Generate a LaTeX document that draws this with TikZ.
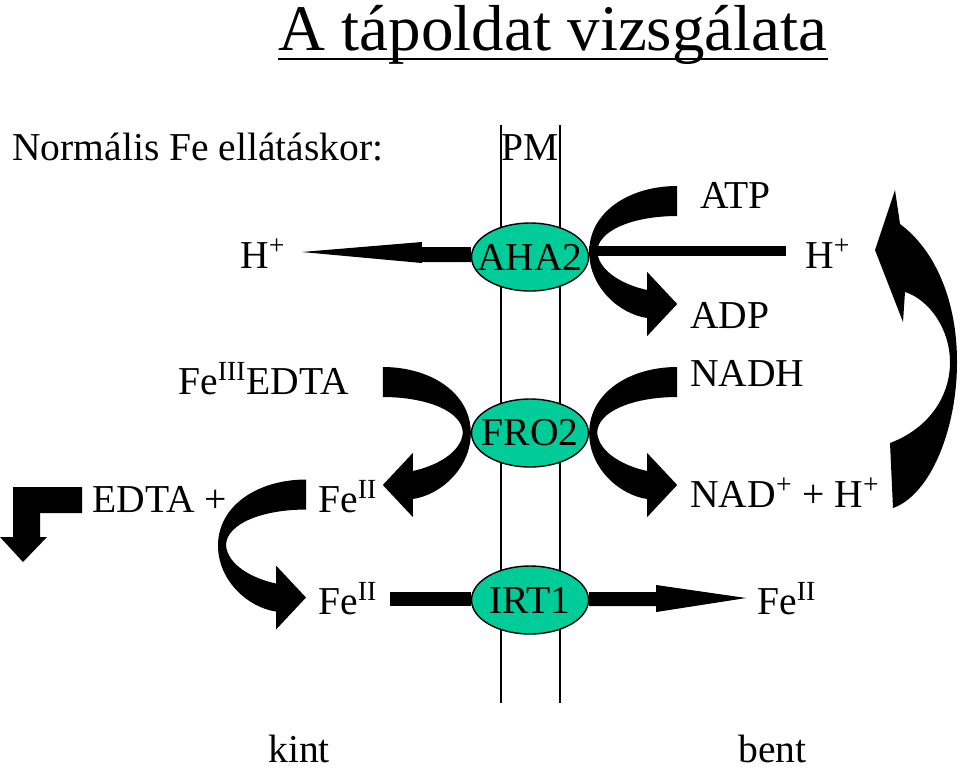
\documentclass[tikz,border=0pt]{standalone}
\usepackage{fontspec}
\setmainfont{Liberation Serif}
\usetikzlibrary{arrows.meta, positioning, calc, shapes.geometric}
\definecolor{ProteinFill}{RGB}{0,204,153}

% curved block arrow, origin at the bulge that touches a protein
\tikzset{
    curvarrow/.pic={
        \fill (88,-66) .. controls (40,-66) and (0,-40) .. (0,0)
            .. controls (0,35) and (30,62) .. (58,66)
            -- (58,84) -- (88,52) -- (58,20) -- (58,38)
            .. controls (35,33) and (10,20) .. (8,0)
            .. controls (8,-22) and (45,-36) .. (88,-36) -- cycle;
    }
}

\begin{document}
\begin{tikzpicture}[
    x=0.02cm, y=-0.02cm,
    lbl/.style={font=\fontsize{22.5}{26}\selectfont, inner sep=0pt},
    protein/.style={
        ellipse, draw=black, line width=0.8pt, fill=ProteinFill,
        minimum width=2.34cm, minimum height=1.36cm, inner sep=0pt,
        label={[lbl]center:#1}
    },
    membrane/.style={line width=0.7pt},
    flux/.style={line width=#1, black},
    flux/.default={8pt}
]
\useasboundingbox (0,0) rectangle (960,769);

% Membrane
\draw[membrane] (501,125) -- (501,703);
\draw[membrane] (560,125) -- (560,703);

% Title
\node[font=\fontsize{37}{40}\selectfont, inner sep=0pt, anchor=base] (title)
    at (553,50) {A tápoldat vizsgálata};
\draw[line width=1.4pt] ($(title.base west)+(0,9)$) -- ($(title.base east)+(0,9)$);

% Labels
\node[lbl, anchor=base west] (normal) at (12,160) {Normális Fe ellátáskor:};
\node[lbl, anchor=base] (pm) at (530,160) {PM};
\node[lbl, anchor=base west] (hleft) at (240,268) {H\textsuperscript{+}};
\node[lbl, anchor=base west] (atp) at (700,208) {ATP};
\node[lbl, anchor=base west] (hright) at (805,268) {H\textsuperscript{+}};
\node[lbl, anchor=base west] (adp) at (690,328) {ADP};
\node[lbl, anchor=base west] (nadh) at (690,386) {NADH};
\node[lbl, anchor=base west] (fe3edta) at (178,394) {Fe\textsuperscript{III}EDTA};
\node[lbl, anchor=base west] (edta) at (92,512) {EDTA +};
\node[lbl, anchor=base west] (fe2a) at (318,512) {Fe\textsuperscript{II}};
\node[lbl, anchor=base west] (nad) at (690,507) {NAD\textsuperscript{+} + H\textsuperscript{+}};
\node[lbl, anchor=base west] (fe2b) at (318,614) {Fe\textsuperscript{II}};
\node[lbl, anchor=base west] (fe2c) at (757,614) {Fe\textsuperscript{II}};
\node[lbl, anchor=base west] (kint) at (268,762) {kint};
\node[lbl, anchor=base west] (bent) at (738,762) {bent};

% Proteins
\node[protein=AHA2] (aha2) at (530,257) {};
\node[protein=FRO2] (fro2) at (530,433) {};
\node[protein=IRT1] (irt1) at (530,600) {};

% Straight fluxes
\fill (aha2.west) ++(0,-10) -- ++(-49,0) -- ++(0,-5) -- ++(-120,10)
    -- ++(120,11) -- ++(0,-1) -- ++(49,0) -- cycle;
\draw[flux=6.2pt, shorten >=11pt] ($(aha2.east)+(0,-6)$) -- ($(aha2.east -| hright.west)+(0,-6)$);
\draw[flux, shorten <=7pt] (fe2b.east) -- (fe2b.east -| irt1.west);
\fill (irt1.east) ++(0,-8) -- ++(67,0) -- ++(0,-7) -- ++(90,13)
    -- ++(-90,14) -- ++(0,-6) -- ++(-67,0) -- cycle;

% Curved fluxes
\pic at ($(aha2.east)+(0,-5)$) {curvarrow};
\pic at (fro2.east) {curvarrow};
\pic[xscale=-1] at (fro2.west) {curvarrow};
\pic at ($(fe2a.west)!0.5!(fe2b.west)+(-100,-2)$) {curvarrow};

% Proton return
\fill (890,443) .. controls (925,430) and (950,400) .. (950,362)
    .. controls (950,330) and (930,300) .. (905,292) -- (903,322)
    -- (875,250) -- (895,190) -- (900,224)
    .. controls (935,250) and (957,300) .. (957,362)
    .. controls (957,430) and (930,495) .. (893,508) -- cycle;

% EDTA leaves
\fill (82,487) -- (82,513) -- (40,513) -- (40,537) -- (47,537) -- (23,562)
    -- (0,537) -- (13,537) -- (13,487) -- cycle;

\end{tikzpicture}
\end{document}
